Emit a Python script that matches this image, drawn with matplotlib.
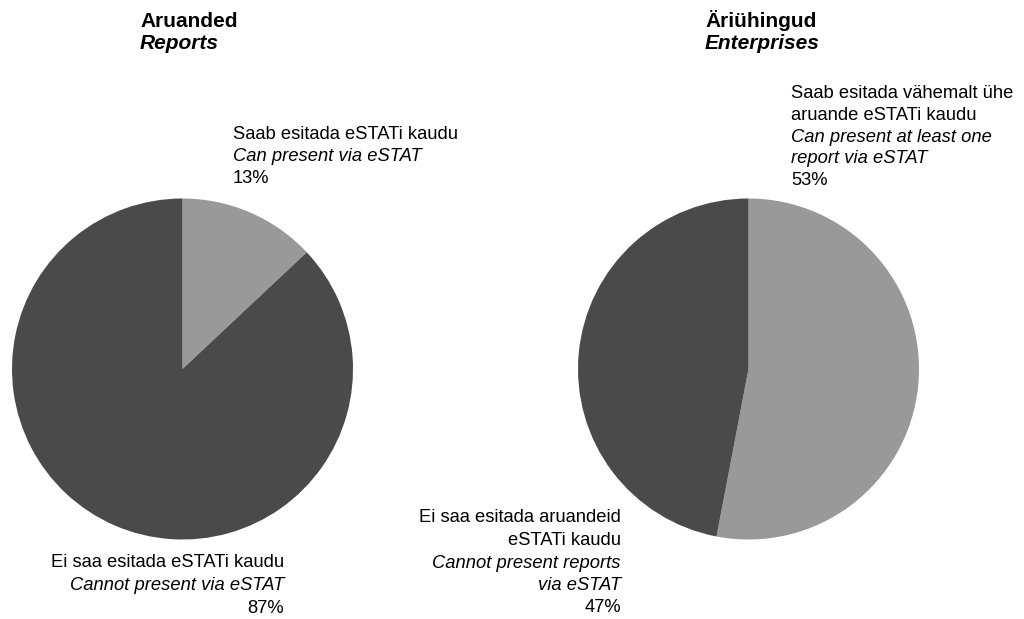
import matplotlib
matplotlib.use('Agg')
import matplotlib.pyplot as plt

plt.rcParams['font.family'] = ['Liberation Sans', 'DejaVu Sans']

# data
reports_values = [13, 87]
enterprises_values = [53, 47]
slice_colors = ['#999999', '#4a4a4a']

reports_title = ['Aruanded', 'Reports']
enterprises_title = ['Äriühingud', 'Enterprises']

reports_can = ['Saab esitada eSTATi kaudu', 'Can present via eSTAT', '13%']
reports_cannot = ['Ei saa esitada eSTATi kaudu', 'Cannot present via eSTAT', '87%']
ent_can = ['Saab esitada vähemalt ühe', 'aruande eSTATi kaudu',
           'Can present at least one', 'report via eSTAT', '53%']
ent_cannot = ['Ei saa esitada aruandeid', 'eSTATi kaudu',
              'Cannot present reports', 'via eSTAT', '47%']

W, H = 1024, 619
fig = plt.figure(figsize=(W / 100, H / 100), dpi=100)


def px(x, y):
    return x / W, 1 - y / H


def pie_axes(cx, cy, r):
    ax = fig.add_axes([(cx - r) / W, (H - cy - r) / H, 2 * r / W, 2 * r / H])
    return ax


def draw_pie(ax, vals):
    ax.pie(vals, colors=slice_colors, startangle=90, counterclock=False,
           radius=1, wedgeprops=dict(linewidth=0))
    ax.set_xlim(-1, 1)
    ax.set_ylim(-1, 1)
    ax.set_aspect('equal')
    ax.axis('off')


ax1 = pie_axes(182.5, 369, 170.5)
draw_pie(ax1, reports_values)
ax2 = pie_axes(748.5, 369, 170.5)
draw_pie(ax2, enterprises_values)

fs = 13.2


def lines(x, baselines, texts, styles, ha='left', size=fs, weight='normal'):
    for y, t, st in zip(baselines, texts, styles):
        fig.text(*px(x, y), t, ha=ha, va='baseline', fontsize=size,
                 style=st, fontweight=weight, color='black')


# pealkirjad
lines(140, [27, 49], reports_title, ['normal', 'italic'], size=15, weight='bold')
lines(705, [27, 49], enterprises_title, ['normal', 'italic'], size=15, weight='bold')

# sektorite sildid
lines(233, [139, 161, 183], reports_can, ['normal', 'italic', 'normal'])
lines(284, [567, 590, 613], reports_cannot, ['normal', 'italic', 'normal'], ha='right')
lines(791, [98, 120, 142, 163, 185], ent_can,
      ['normal', 'normal', 'italic', 'italic', 'normal'])
lines(621, [522, 545, 568, 590, 612], ent_cannot,
      ['normal', 'normal', 'italic', 'italic', 'normal'], ha='right')

fig.savefig('out.png', dpi=100, facecolor='white')
